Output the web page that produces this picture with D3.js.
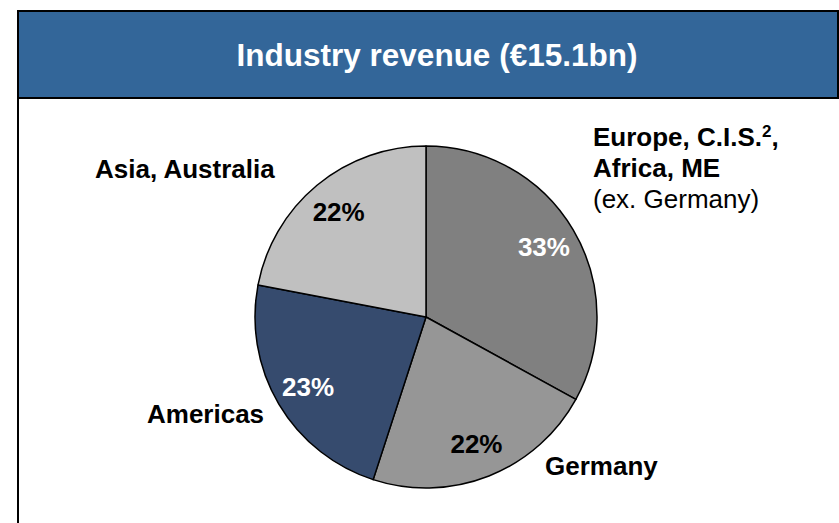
<!DOCTYPE html>
<html>
<head>
<meta charset="utf-8">
<script src="https://cdn.jsdelivr.net/npm/d3@7"></script>
<style>
  html, body { margin: 0; padding: 0; background: #fff; }
  svg { display: block; font-family: "Liberation Sans", Arial, sans-serif; }
</style>
</head>
<body>
<div id="chart"></div>
<script>
(function () {
    const title = "Industry revenue (€15.1bn)";
    const regions = ["Europe, C.I.S., Africa, ME (ex. Germany)", "Germany", "Americas", "Asia, Australia"];
    const shares = [33, 22, 23, 22];
    const colors = ["#808080", "#969696", "#364b6e", "#c0c0c0"];
    const pctColors = ["#fff", "#000", "#fff", "#000"];

    const width = 839, height = 523;
    const cx = 426, cy = 317, radius = 171;

    const svg = d3.select("#chart").append("svg")
        .attr("width", width)
        .attr("height", height);

    // frame + header band
    svg.append("rect")
        .attr("x", 18).attr("y", 11)
        .attr("width", 840).attr("height", 540)
        .attr("fill", "#fff")
        .attr("stroke", "#000")
        .attr("stroke-width", 2);

    svg.append("rect")
        .attr("x", 18).attr("y", 11)
        .attr("width", 820).attr("height", 87)
        .attr("fill", "#336699")
        .attr("stroke", "#000")
        .attr("stroke-width", 2);

    svg.append("text")
        .attr("x", 437).attr("y", 66)
        .attr("text-anchor", "middle")
        .attr("fill", "#fff")
        .attr("font-weight", "bold")
        .attr("font-size", 31.5)
        .text(title);

    const pie = d3.pie().sort(null).value(d => d);
    const arcs = pie(shares);

    const arc = d3.arc().innerRadius(0).outerRadius(radius);
    const labelArc = d3.arc().innerRadius(137).outerRadius(137);

    const g = svg.append("g")
        .attr("transform", "translate(" + cx + "," + cy + ")");

    g.selectAll("path")
        .data(arcs)
        .enter().append("path")
        .attr("d", arc)
        .attr("fill", (d, i) => colors[i])
        .attr("stroke", "#000")
        .attr("stroke-width", 1.5)
        .attr("stroke-linejoin", "round");

    g.selectAll(".pct")
        .data(arcs)
        .enter().append("text")
        .attr("class", "pct")
        .attr("transform", d => "translate(" + labelArc.centroid(d) + ")")
        .attr("dy", "0.35em")
        .attr("text-anchor", "middle")
        .attr("font-weight", "bold")
        .attr("font-size", 26)
        .attr("fill", (d, i) => pctColors[i])
        .text(d => d.data + "%");

    // outer region labels
    const lab = svg.append("g")
        .attr("font-size", 26)
        .attr("font-weight", "bold")
        .attr("fill", "#000");

    const eu = lab.append("text").attr("x", 593).attr("y", 146);
    eu.append("tspan").text("Europe, C.I.S.");
    eu.append("tspan").attr("font-size", 17).attr("dy", -9).text("2");
    eu.append("tspan").attr("dy", 9).text(",");
    lab.append("text").attr("x", 593).attr("y", 177).text("Africa, ME");
    lab.append("text").attr("x", 593).attr("y", 208)
        .attr("font-weight", "normal").text("(ex. Germany)");

    lab.append("text").attr("x", 545).attr("y", 475).text(regions[1]);
    lab.append("text").attr("x", 147).attr("y", 423).text(regions[2]);
    lab.append("text").attr("x", 95).attr("y", 178).text(regions[3]);
}());
</script>
</body>
</html>
